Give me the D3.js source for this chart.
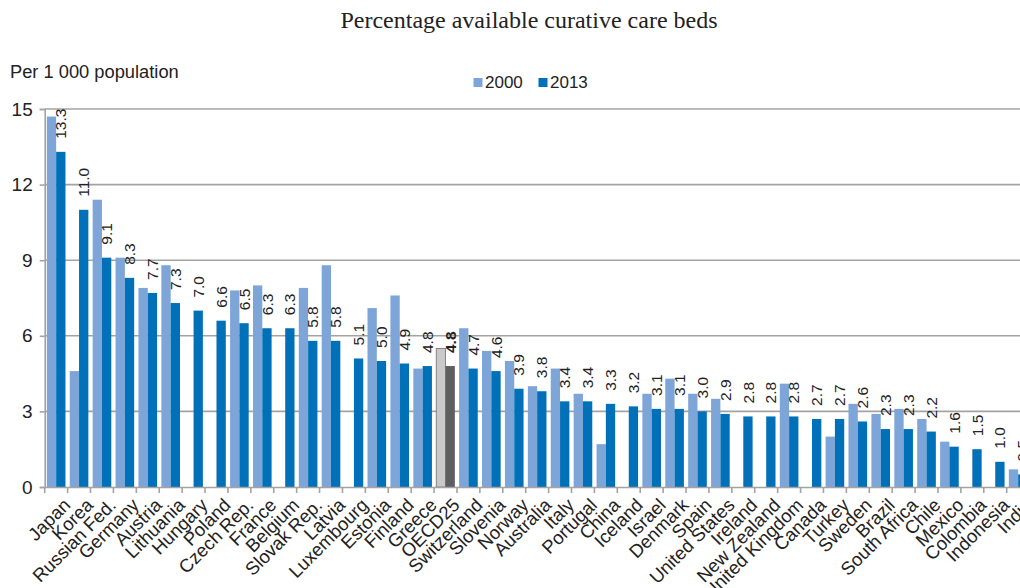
<!DOCTYPE html>
<html>
<head>
<meta charset="utf-8">
<script src="https://cdn.jsdelivr.net/npm/d3@7"></script>
<style>
  html, body { margin: 0; padding: 0; background: #fff; }
  svg { display: block; font-family: "Liberation Sans", Arial, sans-serif; }
</style>
</head>
<body>
<div id="chart"></div>
<script>
// --- data ---
const countries = ["Japan", "Korea", "Russian Fed.", "Germany", "Austria", "Lithuania", "Hungary", "Poland",
  "Czech Rep.", "France", "Belgium", "Slovak Rep.", "Latvia", "Luxembourg", "Estonia", "Finland", "Greece",
  "OECD25", "Switzerland", "Slovenia", "Norway", "Australia", "Italy", "Portugal", "China", "Iceland", "Israel",
  "Denmark", "Spain", "United States", "Ireland", "New Zealand", "United Kingdom", "Canada", "Turkey", "Sweden",
  "Brazil", "South Africa", "Chile", "Mexico", "Colombia", "Indonesia", "India"];

// null = no data for 2000
const beds2000 = [14.7, 4.6, 11.4, 9.1, 7.9, 8.8, null, null,
  7.8, 8.0, null, 7.9, 8.8, null, 7.1, 7.6, 4.7,
  5.5, 6.3, 5.4, 5.0, 4.0, 4.7, 3.7, 1.7, null, 3.7,
  4.3, 3.7, 3.5, null, null, 4.1, null, 2.0, 3.3,
  2.9, 3.1, 2.7, 1.8, null, null, 0.7];

const beds2013 = [13.3, 11.0, 9.1, 8.3, 7.7, 7.3, 7.0, 6.6,
  6.5, 6.3, 6.3, 5.8, 5.8, 5.1, 5.0, 4.9, 4.8,
  4.8, 4.7, 4.6, 3.9, 3.8, 3.4, 3.4, 3.3, 3.2, 3.1,
  3.1, 3.0, 2.9, 2.8, 2.8, 2.8, 2.7, 2.7, 2.6,
  2.3, 2.3, 2.2, 1.6, 1.5, 1.0, 0.5];

const years = ["2000", "2013"];
const yTicks = [0, 3, 6, 9, 12, 15];
const highlight = "OECD25";

const width = 1020, height = 588;
const colors = { "2000": "#7ea5d7", "2013": "#0070b9" };
const hiColors = { "2000": "#c9c9c9", "2013": "#5f5f61" };

const rows = countries.map((c, i) => ({ country: c, "2000": beds2000[i], "2013": beds2013[i] }));

const svg = d3.select("#chart").append("svg")
  .attr("width", width)
  .attr("height", height);

// scales (plot runs past the right edge, India is cut off like in the source)
const x = d3.scaleBand().domain(countries).range([44.7, 1029.6]).padding(0);
const xSub = d3.scaleBand().domain(years).range([0, x.bandwidth()]).paddingInner(0).paddingOuter(0.23);
const y = d3.scaleLinear().domain([0, 15]).range([487, 109]);

// title
svg.append("text")
  .attr("x", 529).attr("y", 28)
  .attr("text-anchor", "middle")
  .style("font-family", "'Liberation Serif', 'Times New Roman', serif")
  .style("font-size", "24px")
  .style("fill", "#222")
  .text("Percentage available curative care beds");

svg.append("text")
  .attr("x", 10).attr("y", 77.5)
  .style("font-size", "18.3px")
  .style("fill", "#222")
  .text("Per 1 000 population");

// gridlines
svg.append("g")
  .selectAll("line")
  .data(yTicks.filter(d => d > 0))
  .join("line")
  .attr("x1", 44.7).attr("x2", width)
  .attr("y1", d => y(d)).attr("y2", d => y(d))
  .attr("stroke", "#a3a3a3")
  .attr("stroke-width", 1.6);

// y axis
const yAxis = svg.append("g")
  .attr("transform", "translate(44.7,0)")
  .call(d3.axisLeft(y).tickValues(yTicks).tickSize(5).tickPadding(7).tickFormat(d3.format("d")));
yAxis.select(".domain").attr("stroke", "#a3a3a3").attr("stroke-width", 1.6);
yAxis.selectAll(".tick line").attr("stroke", "#a3a3a3").attr("stroke-width", 1.6);
yAxis.selectAll(".tick text")
  .style("font-size", "19px")
  .style("font-family", "'Liberation Sans', Arial, sans-serif")
  .attr("fill", "#222");

// bars
const groups = svg.append("g")
  .selectAll("g")
  .data(rows)
  .join("g")
  .attr("transform", d => `translate(${x(d.country)},0)`);

groups.selectAll("rect")
  .data(d => years.filter(k => d[k] != null).map(k => ({ key: k, value: d[k], country: d.country })))
  .join("rect")
  .attr("x", d => xSub(d.key))
  .attr("width", xSub.bandwidth())
  .attr("y", d => y(d.value))
  .attr("height", d => y(0) - y(d.value))
  .attr("fill", d => d.country === highlight ? hiColors[d.key] : colors[d.key])
  .attr("stroke", d => d.country === highlight && d.key === "2000" ? "#6f6f6f" : "none")
  .attr("stroke-width", 0.8);

// value labels for 2013
groups.append("text")
  .attr("transform", d => `translate(${xSub("2013") + xSub.bandwidth() / 2},${y(d["2013"]) - 13}) rotate(-90)`)
  .attr("dy", "0.36em")
  .attr("text-anchor", "start")
  .style("font-size", "15.5px")
  .style("font-weight", d => d.country === highlight ? "bold" : "normal")
  .style("fill", "#222")
  .text(d => d3.format(".1f")(d["2013"]));

// x axis
const xAxis = svg.append("g")
  .attr("transform", `translate(0,${y(0)})`)
  .call(d3.axisBottom(x).tickSize(0).tickFormat(""));
xAxis.select(".domain").attr("stroke", "#a3a3a3").attr("stroke-width", 1.6);

// tick marks sit between categories
svg.append("g")
  .selectAll("line")
  .data(countries)
  .join("line")
  .attr("x1", d => x(d)).attr("x2", d => x(d))
  .attr("y1", y(0)).attr("y2", y(0) + 6)
  .attr("stroke", "#a3a3a3")
  .attr("stroke-width", 1.6);

// category labels, rotated
svg.append("g")
  .selectAll("text")
  .data(countries)
  .join("text")
  .attr("transform", d => `translate(${x(d) + x.bandwidth() / 2 + 6},${y(0) + 10}) rotate(-45)`)
  .attr("text-anchor", "end")
  .attr("dy", "0.71em")
  .style("font-size", "18.5px")
  .style("fill", "#222")
  .text(d => d);

// legend
const legend = svg.append("g")
  .selectAll("g")
  .data(years)
  .join("g")
  .attr("transform", (d, i) => `translate(${473.5 + i * 65},78)`);
legend.append("rect")
  .attr("width", 9).attr("height", 9)
  .attr("fill", d => colors[d]);
legend.append("text")
  .attr("x", 11.5).attr("y", 9.8)
  .style("font-size", "17px")
  .style("fill", "#222")
  .text(d => d);
</script>
</body>
</html>
